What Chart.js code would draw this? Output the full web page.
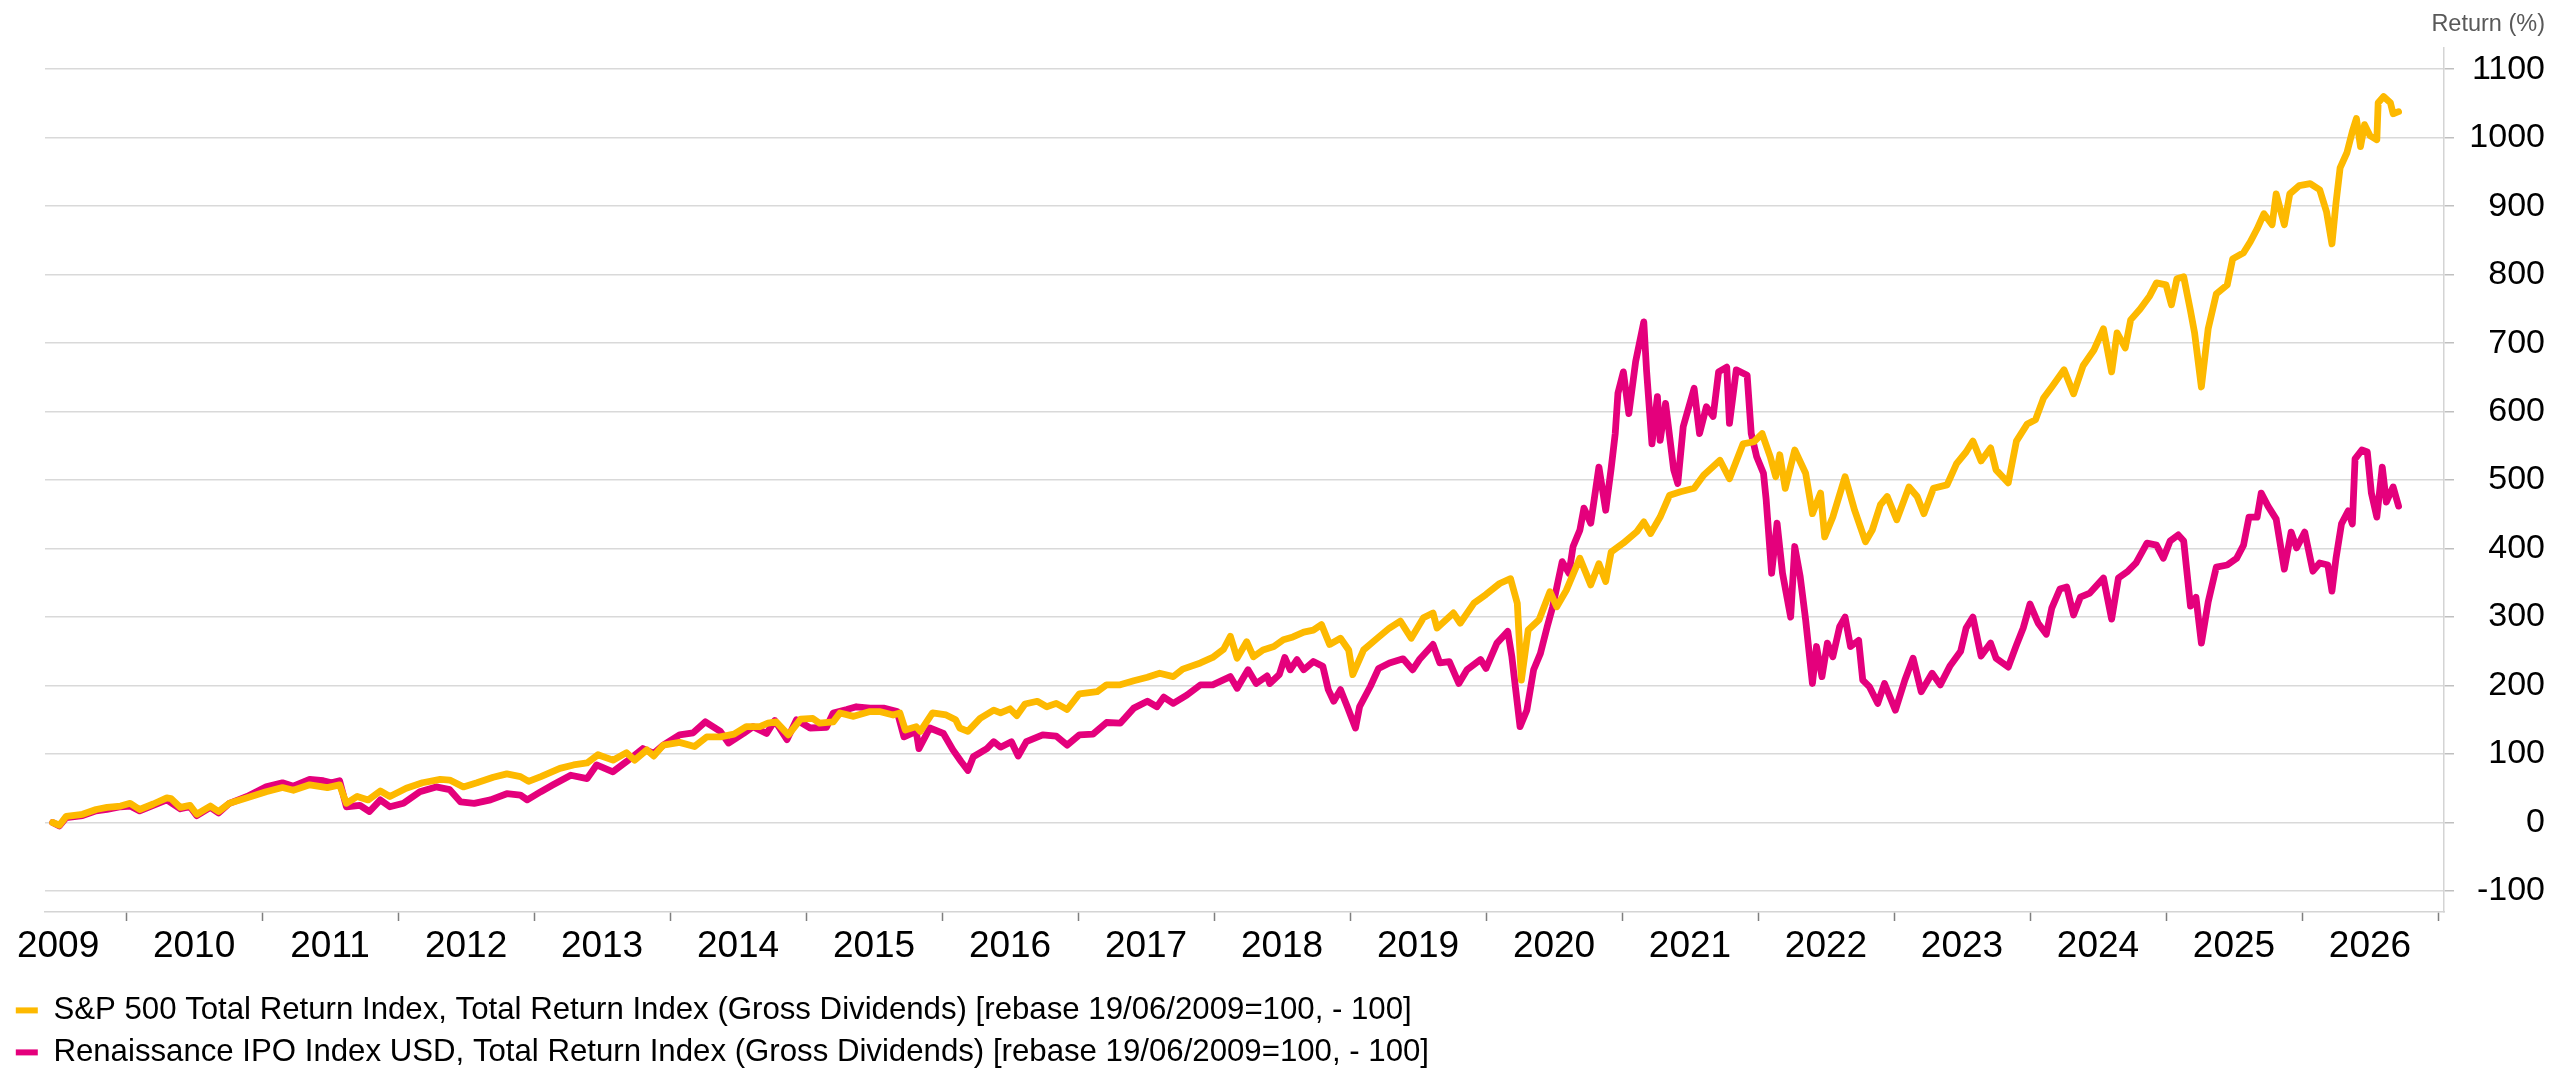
<!DOCTYPE html>
<html>
<head>
<meta charset="utf-8">
<title>S&amp;P 500 vs Renaissance IPO Index</title>
<script src="https://cdn.jsdelivr.net/npm/chart.js@4.4.1/dist/chart.umd.min.js"></script>
<style>
    html, body { margin: 0; padding: 0; background: #fff; }
    .chart-box { position: relative; width: 2560px; height: 1079px; }
</style>
</head>
<body>
<div class="chart-box"><canvas id="returnChart"></canvas></div>
<script>
// Data (x = decimal year, y = return in %)
const spxYears = [
    2009.46, 2009.51, 2009.56, 2009.68, 2009.78, 2009.86, 2009.96, 2010.03, 2010.10, 2010.20,
    2010.30, 2010.33, 2010.40, 2010.47, 2010.52, 2010.62, 2010.68, 2010.76, 2010.89, 2011.03,
    2011.15, 2011.23, 2011.35, 2011.48, 2011.57, 2011.62, 2011.70, 2011.78, 2011.87, 2011.94,
    2012.06, 2012.18, 2012.31, 2012.38, 2012.48, 2012.58, 2012.70, 2012.80, 2012.90, 2012.96,
    2013.05, 2013.19, 2013.29, 2013.39, 2013.47, 2013.58, 2013.68, 2013.74, 2013.83, 2013.88,
    2013.95, 2014.07, 2014.18, 2014.27, 2014.37, 2014.47, 2014.56, 2014.66, 2014.72, 2014.78,
    2014.87, 2014.96, 2015.05, 2015.10, 2015.20, 2015.25, 2015.35, 2015.47, 2015.54, 2015.64,
    2015.69, 2015.73, 2015.81, 2015.84, 2015.93, 2016.03, 2016.10, 2016.13, 2016.19, 2016.28,
    2016.38, 2016.43, 2016.50, 2016.55, 2016.61, 2016.70, 2016.77, 2016.84, 2016.92, 2017.01,
    2017.14, 2017.21, 2017.31, 2017.41, 2017.51, 2017.60, 2017.70, 2017.77, 2017.90, 2017.99,
    2018.07, 2018.12, 2018.17, 2018.24, 2018.29, 2018.36, 2018.44, 2018.51, 2018.58, 2018.66,
    2018.73, 2018.79, 2018.85, 2018.93, 2018.99, 2019.02, 2019.10, 2019.20, 2019.29, 2019.37,
    2019.45, 2019.54, 2019.61, 2019.64, 2019.76, 2019.81, 2019.91, 2020.00, 2020.10, 2020.18,
    2020.23, 2020.26, 2020.31, 2020.39, 2020.47, 2020.52, 2020.59, 2020.69, 2020.77, 2020.83,
    2020.88, 2020.92, 2021.01, 2021.11, 2021.16, 2021.21, 2021.28, 2021.35, 2021.43, 2021.53,
    2021.60, 2021.72, 2021.79, 2021.89, 2021.97, 2022.03, 2022.09, 2022.13, 2022.16, 2022.20,
    2022.27, 2022.35, 2022.40, 2022.46, 2022.49, 2022.55, 2022.64, 2022.71, 2022.79, 2022.84,
    2022.90, 2022.95, 2023.02, 2023.11, 2023.17, 2023.22, 2023.29, 2023.39, 2023.46, 2023.53,
    2023.58, 2023.64, 2023.71, 2023.75, 2023.84, 2023.90, 2023.98, 2024.04, 2024.10, 2024.16,
    2024.25, 2024.32, 2024.39, 2024.47, 2024.54, 2024.60, 2024.64, 2024.70, 2024.74, 2024.81,
    2024.88, 2024.93, 2025.00, 2025.04, 2025.08, 2025.13, 2025.18, 2025.21, 2025.26, 2025.31,
    2025.37, 2025.45, 2025.49, 2025.57, 2025.62, 2025.67, 2025.72, 2025.78, 2025.81, 2025.87,
    2025.91, 2025.98, 2026.06, 2026.13, 2026.18, 2026.22, 2026.25, 2026.28, 2026.33, 2026.37,
    2026.40, 2026.43, 2026.46, 2026.50, 2026.55, 2026.56, 2026.60, 2026.65, 2026.67, 2026.71
];
const spxValues = [
    0, -4, 9, 12, 19, 22, 24, 28, 19, 27,
    36, 35, 22, 25, 12, 24, 16, 28, 36, 45,
    51, 47, 55, 51, 55, 28, 38, 33, 46, 38,
    50, 58, 63, 62, 52, 58, 66, 71, 67, 60,
    67, 79, 84, 87, 99, 91, 102, 91, 106, 97,
    113, 117, 111, 125, 125, 129, 140, 140, 145, 147,
    128, 151, 152, 145, 147, 160, 155, 162, 162, 157,
    160, 135, 140, 133, 160, 157, 150, 138, 133, 152,
    164, 160, 166, 156, 173, 177, 169, 174, 165, 188,
    191, 201, 201, 207, 212, 218, 213, 224, 233, 241,
    253, 272, 240, 264, 242, 252, 257, 267, 271, 278,
    281, 289, 260, 269, 252, 216, 252, 269, 284, 294,
    269, 299, 306, 284, 306, 291, 320, 333, 349, 356,
    320, 208, 281, 296, 337, 315, 339, 386, 347, 378,
    352, 395, 408, 425, 439, 422, 446, 478, 483, 488,
    507, 529, 502, 553, 556, 568, 534, 505, 537, 488,
    544, 510, 451, 481, 417, 446, 505, 456, 410, 427,
    464, 476, 442, 490, 476, 451, 488, 493, 524, 541,
    557, 528, 547, 515, 496, 557, 582, 588, 620, 636,
    661, 626, 667, 690, 721, 658, 715, 693, 734, 750,
    769, 788, 785, 756, 794, 797, 747, 715, 636, 721,
    772, 785, 823, 832, 848, 867, 889, 873, 918, 873,
    918, 930, 933, 924, 892, 845, 905, 956, 978, 1009,
    1028, 987, 1019, 1003, 997, 1051, 1060, 1051, 1035, 1038
];

const ipoYears = [
    2009.46, 2009.51, 2009.56, 2009.68, 2009.78, 2009.86, 2009.96, 2010.03, 2010.10, 2010.20,
    2010.30, 2010.40, 2010.47, 2010.52, 2010.62, 2010.68, 2010.76, 2010.89, 2011.03, 2011.15,
    2011.23, 2011.35, 2011.45, 2011.51, 2011.57, 2011.62, 2011.72, 2011.79, 2011.87, 2011.94,
    2012.04, 2012.16, 2012.28, 2012.38, 2012.46, 2012.56, 2012.68, 2012.80, 2012.90, 2012.95,
    2013.05, 2013.14, 2013.27, 2013.39, 2013.46, 2013.58, 2013.68, 2013.80, 2013.88, 2013.95,
    2014.07, 2014.17, 2014.26, 2014.37, 2014.43, 2014.54, 2014.61, 2014.71, 2014.77, 2014.86,
    2014.93, 2015.03, 2015.15, 2015.20, 2015.30, 2015.37, 2015.47, 2015.57, 2015.67, 2015.72,
    2015.81, 2015.83, 2015.91, 2016.01, 2016.08, 2016.14, 2016.19, 2016.23, 2016.33, 2016.38,
    2016.43, 2016.51, 2016.56, 2016.62, 2016.74, 2016.84, 2016.92, 2017.01, 2017.11, 2017.21,
    2017.31, 2017.41, 2017.51, 2017.58, 2017.63, 2017.70, 2017.80, 2017.90, 2017.99, 2018.12,
    2018.17, 2018.25, 2018.31, 2018.39, 2018.41, 2018.48, 2018.52, 2018.56, 2018.61, 2018.66,
    2018.73, 2018.80, 2018.84, 2018.88, 2018.93, 2018.98, 2019.04, 2019.07, 2019.15, 2019.21,
    2019.29, 2019.39, 2019.46, 2019.51, 2019.61, 2019.66, 2019.73, 2019.80, 2019.86, 2019.96,
    2020.00, 2020.08, 2020.16, 2020.19, 2020.25, 2020.30, 2020.35, 2020.40, 2020.45, 2020.49,
    2020.56, 2020.61, 2020.64, 2020.69, 2020.72, 2020.77, 2020.83, 2020.88, 2020.92, 2020.95,
    2020.97, 2021.01, 2021.05, 2021.10, 2021.16, 2021.18, 2021.22, 2021.26, 2021.28, 2021.32,
    2021.38, 2021.41, 2021.45, 2021.53, 2021.57, 2021.62, 2021.67, 2021.71, 2021.77, 2021.79,
    2021.84, 2021.92, 2021.95, 2021.99, 2022.04, 2022.06, 2022.10, 2022.14, 2022.18, 2022.24,
    2022.27, 2022.31, 2022.35, 2022.40, 2022.43, 2022.47, 2022.51, 2022.55, 2022.60, 2022.64,
    2022.68, 2022.74, 2022.77, 2022.82, 2022.88, 2022.93, 2023.01, 2023.08, 2023.14, 2023.20,
    2023.28, 2023.34, 2023.41, 2023.49, 2023.53, 2023.58, 2023.64, 2023.71, 2023.75, 2023.84,
    2023.90, 2023.95, 2024.00, 2024.06, 2024.12, 2024.16, 2024.22, 2024.27, 2024.32, 2024.37,
    2024.44, 2024.54, 2024.60, 2024.65, 2024.72, 2024.78, 2024.86, 2024.93, 2024.98, 2025.03,
    2025.09, 2025.13, 2025.18, 2025.22, 2025.26, 2025.31, 2025.37, 2025.45, 2025.52, 2025.57,
    2025.61, 2025.67, 2025.70, 2025.75, 2025.81, 2025.87, 2025.92, 2025.96, 2026.02, 2026.08,
    2026.13, 2026.19, 2026.22, 2026.25, 2026.29, 2026.34, 2026.37, 2026.39, 2026.44, 2026.48,
    2026.51, 2026.55, 2026.59, 2026.62, 2026.67, 2026.71
];
const ipoValues = [
    0, -5, 7, 10, 17, 19, 23, 24, 17, 25,
    33, 20, 23, 10, 22, 14, 28, 38, 52, 58,
    53, 63, 61, 58, 61, 23, 25, 16, 33, 23,
    28, 45, 52, 48, 30, 28, 33, 42, 40, 33,
    45, 55, 69, 64, 84, 74, 89, 108, 101, 113,
    128, 131, 147, 133, 116, 130, 140, 130, 149, 121,
    150, 138, 139, 160, 165, 169, 167, 167, 162, 125,
    133, 108, 138, 130, 106, 89, 76, 96, 108, 118,
    110, 118, 97, 118, 128, 126, 113, 128, 129, 146,
    145, 167, 177, 169, 183, 174, 186, 201, 201, 213,
    196, 223, 203, 214, 203, 216, 241, 223, 238, 223,
    235, 228, 194, 177, 194, 169, 138, 169, 199, 225,
    233, 239, 223, 238, 260, 233, 235, 203, 223, 238,
    225, 262, 279, 242, 140, 164, 223, 247, 286, 315,
    381, 364, 403, 427, 459, 437, 519, 456, 517, 568,
    627, 658, 597, 673, 731, 661, 553, 622, 558, 612,
    515, 495, 578, 634, 568, 607, 593, 658, 665, 583,
    661, 653, 568, 534, 510, 471, 364, 437, 364, 300,
    403, 359, 296, 203, 257, 213, 262, 242, 286, 300,
    257, 266, 208, 198, 174, 203, 164, 208, 240, 191,
    218, 201, 228, 250, 284, 300, 243, 262, 240, 227,
    259, 284, 319, 291, 275, 313, 341, 344, 303, 329,
    335, 357, 297, 357, 367, 379, 408, 405, 386, 411,
    420, 411, 316, 329, 262, 322, 373, 376, 386, 405,
    446, 446, 481, 462, 443, 370, 424, 401, 424, 367,
    379, 376, 338, 386, 436, 455, 436, 531, 544, 541,
    481, 446, 519, 468, 490, 462
];

// Axis labels
const yearLabels = ['2009', '2010', '2011', '2012', '2013', '2014', '2015', '2016', '2017',
    '2018', '2019', '2020', '2021', '2022', '2023', '2024', '2025', '2026'];
const yTickValues = [-100, 0, 100, 200, 300, 400, 500, 600, 700, 800, 900, 1000, 1100];

const seriesNames = [
    'S&P 500 Total Return Index, Total Return Index (Gross Dividends) [rebase 19/06/2009=100, - 100]',
    'Renaissance IPO Index USD, Total Return Index (Gross Dividends) [rebase 19/06/2009=100, - 100]'
];
const seriesColors = ['#FDB900', '#E4007C'];

function toPoints(xs, ys) {
    return xs.map((x, i) => ({ x: x, y: ys[i] }));
}

Chart.defaults.font.family = "'Liberation Sans', Arial, sans-serif";
Chart.defaults.color = '#000';

const lineStyle = {
    borderWidth: 6.8,
    pointRadius: 0,
    tension: 0,
    borderJoinStyle: 'round',
    borderCapStyle: 'round',
    fill: false
};

const chartData = {
    datasets: [
        {
            label: seriesNames[0],
            data: toPoints(spxYears, spxValues),
            borderColor: seriesColors[0],
            backgroundColor: seriesColors[0],
            ...lineStyle
        },
        {
            label: seriesNames[1],
            data: toPoints(ipoYears, ipoValues),
            borderColor: seriesColors[1],
            backgroundColor: seriesColors[1],
            ...lineStyle
        }
    ]
};

// Chart configuration
const ctx = document.getElementById('returnChart').getContext('2d');
const chart = new Chart(ctx, {
    type: 'line',
    data: chartData,
    options: {
        responsive: true,
        maintainAspectRatio: false,
        animation: false,
        layout: {
            padding: { left: 5, right: 15, top: 0, bottom: 1 }
        },
        plugins: {
            tooltip: { enabled: false },
            title: {
                display: true,
                text: 'Return (%)',
                align: 'end',
                color: '#595959',
                font: { size: 23.5, weight: 'normal' },
                padding: { top: 10, bottom: 10 }
            },
            legend: {
                position: 'bottom',
                align: 'start',
                labels: {
                    boxWidth: 22,
                    boxHeight: 6,
                    padding: 10.8,
                    color: '#000',
                    font: { size: 31.2 },
                    generateLabels: function(c) {
                        return Chart.defaults.plugins.legend.labels.generateLabels(c).map(item => ({
                            ...item,
                            fillStyle: item.strokeStyle,
                            lineWidth: 0
                        }));
                    }
                }
            }
        },
        scales: {
            x: {
                type: 'linear',
                min: 2009.404,
                max: 2027.044,
                afterBuildTicks: function(axis) {
                    const ticks = [];
                    yearLabels.forEach(label => {
                        const year = Number(label);
                        ticks.push({ value: year + 0.5 });
                        ticks.push({ value: year + 1 });
                    });
                    axis.ticks = ticks;
                },
                afterFit: function(axis) {
                    axis.height = 72;
                    axis.paddingLeft = 45;
                },
                grid: {
                    drawOnChartArea: false,
                    drawTicks: true,
                    tickLength: 9,
                    tickWidth: 1.5,
                    tickColor: function(context) {
                        return context.tick && Number.isInteger(context.tick.value) ? '#7f7f7f' : 'rgba(0,0,0,0)';
                    }
                },
                border: { display: true, color: '#d4d4d4', width: 1.5 },
                ticks: {
                    autoSkip: false,
                    maxRotation: 0,
                    padding: 3.5,
                    color: '#000',
                    font: { size: 37 },
                    callback: function(value) {
                        return Number.isInteger(value) ? '' : String(Math.floor(value));
                    }
                }
            },
            y: {
                type: 'linear',
                position: 'right',
                min: -130.7,
                max: 1130.7,
                afterBuildTicks: function(axis) {
                    axis.ticks = yTickValues.map(v => ({ value: v }));
                },
                afterFit: function(axis) {
                    axis.width = 101;
                },
                grid: {
                    color: '#d9d9d9',
                    lineWidth: 1.5,
                    drawTicks: true,
                    tickLength: 10,
                    tickColor: '#bfbfbf'
                },
                border: { display: true, color: '#d4d4d4', width: 1.5 },
                ticks: {
                    crossAlign: 'far',
                    padding: 13,
                    color: '#000',
                    font: { size: 34 },
                    callback: function(value) {
                        return String(value);
                    }
                }
            }
        }
    }
});
</script>
</body>
</html>
